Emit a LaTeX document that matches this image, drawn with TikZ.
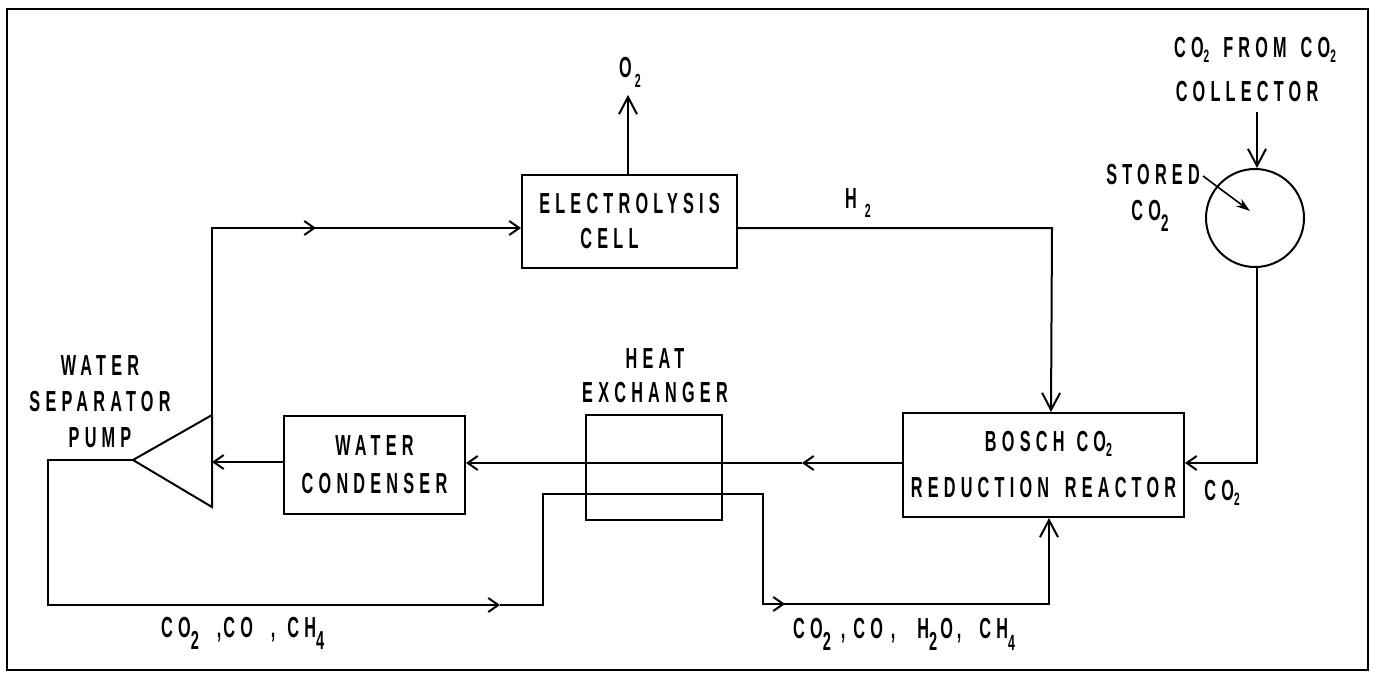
\documentclass[tikz,border=0pt]{standalone}
\usepackage{fontspec}
\setmainfont{Liberation Sans}[FakeStretch=0.56,LetterSpace=18]
\usetikzlibrary{arrows.meta}
% subscript digit: size, lowering, digit
\newcommand{\sbs}[3]{\raisebox{-#2pt}{\fontsize{#1}{#1}\selectfont #3}}
\begin{document}
\begin{tikzpicture}[x=1pt,y=-1pt,
  lbl/.style={inner sep=0pt, font=\fontsize{29}{36}\selectfont\bfseries, align=center},
  tight/.style={inner sep=0pt, font=\fontsize{29}{36}\selectfont\bfseries},
  blk/.style={draw, line width=2pt, inner sep=0pt, font=\fontsize{29}{36}\selectfont\bfseries, align=center},
  ln/.style={line width=2pt},
  flow/.style={line width=2pt, -{Straight Barb[length=10pt,width=14pt]}},
  bigflow/.style={line width=2pt, -{Straight Barb[length=17pt,width=18pt]}},
  pointer/.style={line width=1.6pt, -{Stealth[length=14pt,width=9pt]}}]
\useasboundingbox (0,0) rectangle (1376,673);
\draw[line width=2pt] (7,9) rectangle (1368,670);

% blocks
\node[blk, minimum width=215pt, minimum height=93pt] (cell) at (629.5,221.5) {ELECTROLYSIS\\[-1pt]CELL\hspace*{40pt}};
\node[blk, minimum width=181pt, minimum height=98pt] (cond) at (374.5,465) {WATER\\[2pt]CONDENSER};
\node[draw, line width=2pt, minimum width=136pt, minimum height=105pt] (hx) at (654,467.5) {};
\node[blk, minimum width=281pt, minimum height=104pt] (reac) at (1043.5,465) {\hspace*{10pt}BOSCH\hspace{12pt}CO\sbs{19}{5}{2}\\[10pt]REDUCTION\hspace{6pt} REACTOR};
\node[draw, circle, line width=2pt, minimum size=98pt, inner sep=0pt] (tank) at (1255,218) {};

% pump triangle
\coordinate (apex) at (133,460);
\coordinate (ptop) at (212,415);
\coordinate (pbot) at (212,507);
\coordinate (pin) at (212,462);
\draw[ln, line join=miter] (ptop) -- (apex) -- (pbot) -- (ptop);

% labels
\node[lbl] (o2) at (630,72) {O\hspace{3pt}\sbs{19}{10}{2}};
\node[lbl] (h2) at (858,203) {H\hspace{8pt}\sbs{19}{9}{2}};
\node[lbl] (src) at (1255,50) {CO\sbs{18}{5}{2}\hspace{14pt}FROM\hspace{14pt}CO\sbs{18}{5}{2}};
\node[lbl] (coll) at (1247,92) {COLLECTOR};
\node[lbl] (stored) at (1153,175) {STORED};
\node[lbl] (storedco) at (1150,216) {CO\sbs{24}{11}{2}};
\node[lbl] (co2r) at (1222,493) {CO\sbs{18}{5}{2}};
\node[lbl] (heat) at (655,359) {HEAT};
\node[lbl] (exch) at (655,393) {EXCHANGER};
\node[lbl] (pump) at (100,402) {WATER\\SEPARATOR\\PUMP};
\node[tight, anchor=base west] (lowl) at (161,637) {CO\sbs{26}{12}{2}\hspace{18pt},\hspace{2pt}CO\hspace{18pt},\hspace{12pt}CH\sbs{26}{12}{4}};
\node[tight, anchor=base west] (lowr) at (793,638) {CO\sbs{26}{12}{2}\hspace{10pt},\hspace{8pt}CO\hspace{8pt},\hspace{22pt}H\sbs{26}{12}{2}\hspace{3pt}O\hspace{4pt},\hspace{18pt}CH\sbs{22}{12}{4}};

% O2 out
\coordinate (o2tip) at (628,95);
\draw[bigflow] (cell.north -| o2tip) -- (o2tip);

% pump -> electrolysis cell
\coordinate (tl) at (212,228);
\coordinate (m1) at (316,228);
\draw[ln] (ptop) -- (tl) -- (m1);
\draw[flow] (tl) -- (m1);
\draw[flow] (m1) -- ([yshift=-6.5pt]cell.west);

% H2 to reactor
\coordinate (h2c) at (1052,228);
\draw[bigflow] ([yshift=-6.5pt]cell.east) -- (h2c) -- ([xshift=7.5pt]reac.north);

% CO2 collector into tank
\coordinate (cin) at (1257,112);
\draw[bigflow] (cin) -- (tank.north -| cin);
\coordinate (sa) at (1203,176);
\coordinate (sb) at (1250,211);
\draw[pointer] (sa) -- (sb);

% tank to reactor
\coordinate (tr) at (1257,463);
\draw[flow] (tank.south -| tr) -- (tr) -- ([yshift=2pt]reac.east);

% reactor -> condenser through heat exchanger
\coordinate (m2) at (802,463);
\draw[flow] ([yshift=2pt]reac.west) -- (m2);
\draw[flow] (m2) -- ([yshift=2pt]cond.east);

% condenser -> pump
\draw[flow] ([yshift=3pt]cond.west) -- (pin);

% return loop
\coordinate (b1) at (48,460);
\coordinate (b2) at (48,605);
\coordinate (m3) at (500,605);
\coordinate (b3) at (543,605);
\coordinate (b4) at (543,494);
\coordinate (b5) at (763,494);
\coordinate (b6) at (763,604);
\coordinate (m4) at (785,604);
\coordinate (b7) at (1049,604);
\draw[flow, line join=miter] (apex) -- (b1) -- (b2) -- (m3);
\draw[ln, line join=miter] (m3) -- (b3) -- (b4) -- (b5) -- (b6) -- (m4);
\draw[flow] (b6) -- (m4);
\draw[bigflow, line join=miter] (m4) -- (b7) -- ([xshift=5.5pt]reac.south);
\end{tikzpicture}
\end{document}
